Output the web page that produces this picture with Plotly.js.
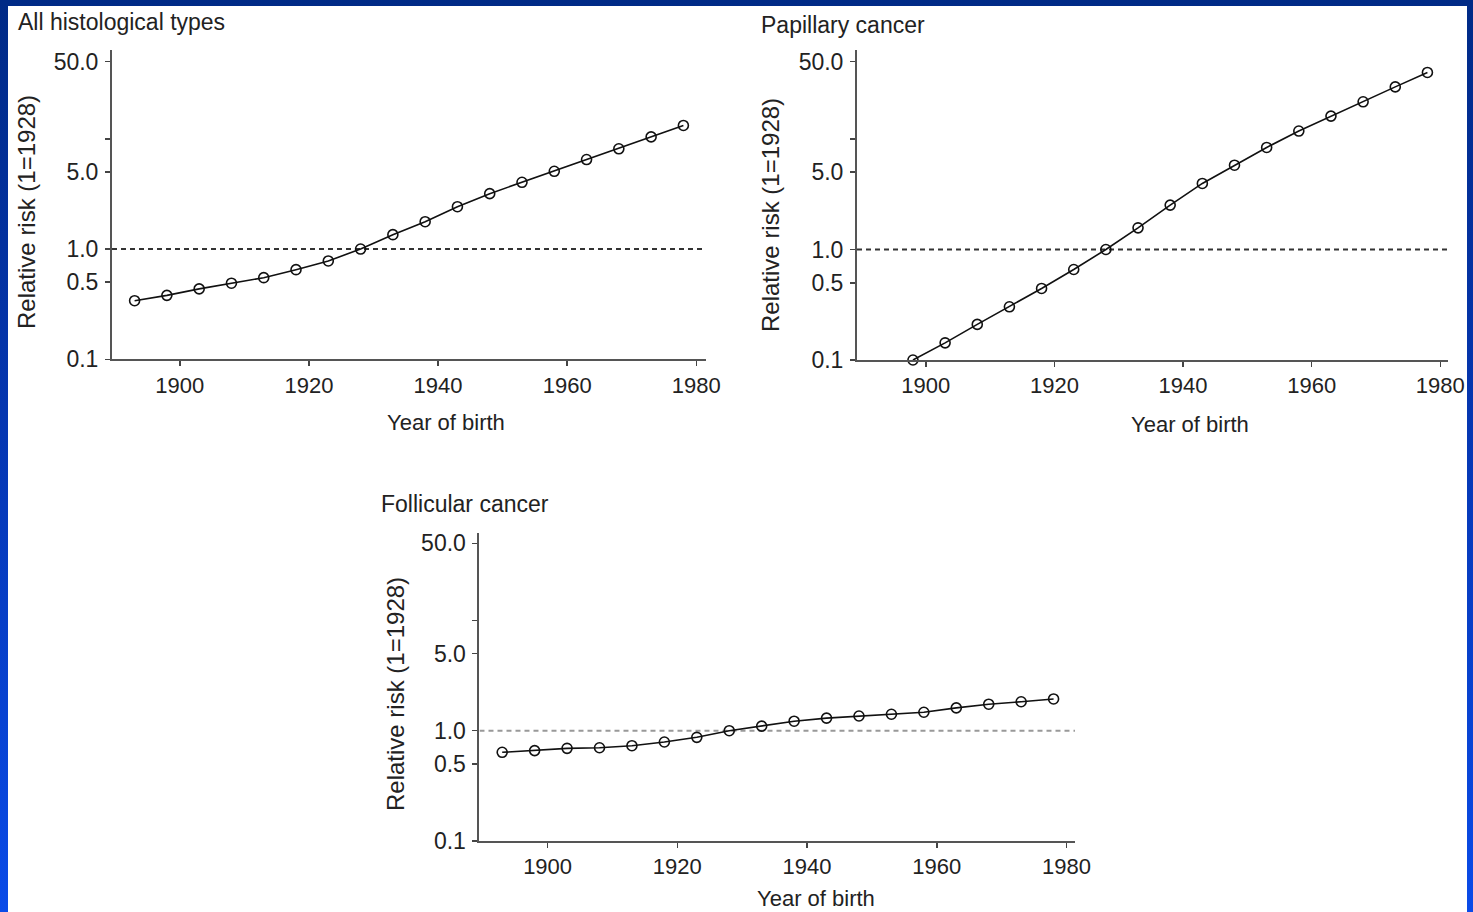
<!DOCTYPE html>
<html>
<head>
<meta charset="utf-8">
<script src="https://cdn.plot.ly/plotly-3.0.1.min.js"></script>
<style>
  html, body { margin: 0; padding: 0; }
  body {
    width: 1473px; height: 912px; overflow: hidden; position: relative;
    background: linear-gradient(to bottom, #002a86 0%, #0536b0 45%, #0a4be8 100%);
  }
  #chart { position: absolute; left: 8px; top: 6px; width: 1459px; height: 906px; background: #fff; }
</style>
</head>
<body>
<div id="chart"></div>
<script>
// Birth-cohort relative risk of thyroid cancer, reference cohort 1928 (RR = 1)
const yearsAll = [1893, 1898, 1903, 1908, 1913, 1918, 1923, 1928, 1933, 1938, 1943, 1948, 1953, 1958, 1963, 1968, 1973, 1978];
const rrAll = [0.34, 0.38, 0.435, 0.49, 0.55, 0.65, 0.78, 1.0, 1.35, 1.77, 2.42, 3.18, 4.03, 5.07, 6.48, 8.11, 10.4, 13.2];

const yearsPapillary = [1898, 1903, 1908, 1913, 1918, 1923, 1928, 1933, 1938, 1943, 1948, 1953, 1958, 1963, 1968, 1973, 1978];
const rrPapillary = [0.1, 0.143, 0.21, 0.303, 0.444, 0.659, 1.0, 1.57, 2.52, 3.96, 5.79, 8.38, 11.8, 16.1, 21.7, 29.6, 40.0];

const yearsFollicular = [1893, 1898, 1903, 1908, 1913, 1918, 1923, 1928, 1933, 1938, 1943, 1948, 1953, 1958, 1963, 1968, 1973, 1978];
const rrFollicular = [0.637, 0.66, 0.692, 0.701, 0.731, 0.79, 0.871, 1.0, 1.10, 1.22, 1.30, 1.36, 1.41, 1.47, 1.61, 1.74, 1.83, 1.94];

const panelTitles = ["All histological types", "Papillary cancer", "Follicular cancer"];
const yTickVals = [0.1, 0.5, 1, 5, 10, 50];
const yTickText = ["0.1", "0.5", "1.0", "5.0", "", "50.0"];
const xTickVals = [1900, 1920, 1940, 1960, 1980];
const referenceRR = 1;
const yTitle = "Relative risk (1=1928)";
const xTitle = "Year of birth";

const FONT = "Liberation Sans, Arial, Helvetica, sans-serif";
const TEXT = "#222";

const xRanges = [[1889.5, 1981.5], [1889.3, 1981.2], [1889.5, 1981.3]];
const yRanges = [[-1, 1.805], [-1, 1.805], [-1, 1.79]];

function seriesTrace(x, y, k) {
  const s = k === 0 ? "" : String(k + 1);
  return {
    x: x, y: y, xaxis: "x" + s, yaxis: "y" + s,
    type: "scatter", mode: "lines+markers", cliponaxis: false,
    line: { color: "#111", width: 1.6 },
    marker: { symbol: "circle-open", size: 10, color: "#111", line: { width: 1.6, color: "#111" } },
    hoverinfo: "x+y", showlegend: false
  };
}
function refTrace(k, color) {
  const s = k === 0 ? "" : String(k + 1);
  return {
    x: xRanges[k], y: [referenceRR, referenceRR], xaxis: "x" + s, yaxis: "y" + s,
    type: "scatter", mode: "lines",
    line: { color: color, width: 2, dash: "5px,4px" },
    hoverinfo: "skip", showlegend: false
  };
}

const traces = [
  refTrace(0, "#333"), seriesTrace(yearsAll, rrAll, 0),
  refTrace(1, "#333"), seriesTrace(yearsPapillary, rrPapillary, 1),
  refTrace(2, "#999"), seriesTrace(yearsFollicular, rrFollicular, 2)
];

function xAxis(k, domain, anchor) {
  return {
    domain: domain, range: xRanges[k], anchor: anchor,
    tickvals: xTickVals, ticks: "outside", ticklen: 5, tickwidth: 1.5, tickcolor: "#444",
    showline: true, linecolor: "#555", linewidth: 2, showgrid: false, zeroline: false,
    tickfont: { family: FONT, size: 22, color: TEXT }, ticklabelstandoff: 0
  };
}
function yAxis(k, domain, anchor) {
  return {
    domain: domain, type: "log", range: yRanges[k], anchor: anchor,
    tickvals: yTickVals, ticktext: yTickText, ticks: "outside", ticklen: 5, tickwidth: 1.5, tickcolor: "#444",
    showline: true, linecolor: "#555", linewidth: 2, showgrid: false, zeroline: false,
    tickfont: { family: FONT, size: 23, color: TEXT }, ticklabelstandoff: 2
  };
}

function label(text, x, y, size, opts) {
  return Object.assign({
    text: text, x: x, y: y, xref: "paper", yref: "paper", showarrow: false,
    font: { family: FONT, size: size, color: TEXT }
  }, opts || {});
}

const layout = {
  width: 1459, height: 906,
  margin: { l: 0, r: 0, t: 0, b: 0 },
  paper_bgcolor: "#fff", plot_bgcolor: "rgba(0,0,0,0)",
  xaxis: xAxis(0, [0.07128, 0.47841], "y"),
  yaxis: yAxis(0, [0.61004, 0.95143], "x"),
  xaxis2: xAxis(1, [0.58191, 0.98698], "y2"),
  yaxis2: yAxis(1, [0.60927, 0.95143], "x2"),
  xaxis3: xAxis(2, [0.32316, 0.73132], "y3"),
  yaxis3: yAxis(2, [0.07837, 0.41799], "x3"),
  annotations: [
    label(panelTitles[0], 0.00549, 0.98234, 23, { xanchor: "left", yanchor: "middle" }),
    label(panelTitles[1], 0.51474, 0.97903, 23, { xanchor: "left", yanchor: "middle" }),
    label(panelTitles[2], 0.25429, 0.45033, 23, { xanchor: "left", yanchor: "middle" }),
    label(yTitle, 0.01302, 0.77263, 24, { textangle: -90, xanchor: "center", yanchor: "middle" }),
    label(yTitle, 0.52296, 0.76932, 24, { textangle: -90, xanchor: "center", yanchor: "middle" }),
    label(yTitle, 0.26594, 0.24062, 24, { textangle: -90, xanchor: "center", yanchor: "middle" }),
    label(xTitle, 0.30021, 0.53974, 22, { xanchor: "center", yanchor: "middle" }),
    label(xTitle, 0.81014, 0.53753, 22, { xanchor: "center", yanchor: "middle" }),
    label(xTitle, 0.55380, 0.01435, 22, { xanchor: "center", yanchor: "middle" })
  ]
};

Plotly.newPlot("chart", traces, layout, { displayModeBar: false, staticPlot: true });
</script>
</body>
</html>
